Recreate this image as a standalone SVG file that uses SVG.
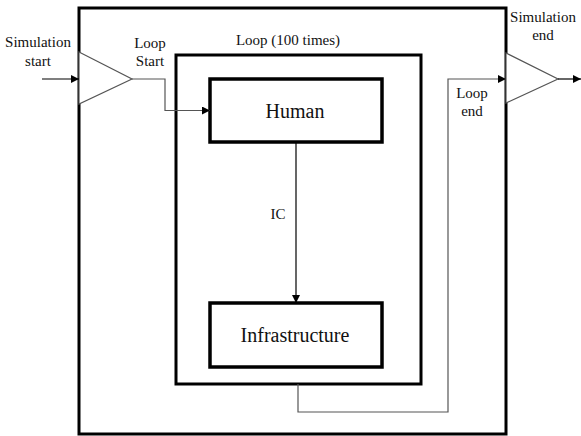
<svg xmlns="http://www.w3.org/2000/svg" width="581" height="436" viewBox="0 0 581 436">
  <style>
    .box { fill: none; stroke: #000; stroke-width: 3; }
    .node { fill: #fff; stroke: #000; stroke-width: 3.5; }
    .gate { fill: #fff; stroke: #555; stroke-width: 1.2; }
    .wire { fill: none; stroke: #555; stroke-width: 1.2; }
    .wire-dark { fill: none; stroke: #000; stroke-width: 1.2; }
    text { font-family: 'Liberation Serif', 'DejaVu Serif', serif; fill: #111; text-anchor: middle; }
    .lbl { font-size: 15px; }
    .big { font-size: 20px; }
  </style>
  <defs>
    <marker id="arrow" viewBox="0 0 10 10" refX="10" refY="5" markerWidth="8" markerHeight="8" markerUnits="userSpaceOnUse" orient="auto">
      <path d="M0,0 L10,5 L0,10 z" fill="#000"/>
    </marker>
  </defs>
  <rect width="581" height="436" fill="#fff"/>

  <!-- simulation frame -->
  <g id="simulation">
    <rect class="box" x="79" y="8" width="427" height="426"/>
  </g>

  <!-- loop frame -->
  <g id="loop">
    <rect class="box" x="176" y="55" width="245" height="329"/>
    <text class="lbl" x="288" y="45" font-family="Liberation Serif, serif">Loop (100 times)</text>
  </g>

  <g id="human">
    <rect class="node" x="210" y="79" width="172" height="63"/>
    <text class="big" x="295" y="118">Human</text>
  </g>

  <g id="infrastructure">
    <rect class="node" x="210" y="303" width="172" height="64"/>
    <text class="big" x="295" y="342">Infrastructure</text>
  </g>

  <g id="loop-start">
    <polygon class="gate" points="79,52 132,79 79,104"/>
    <text class="lbl" x="150" y="48">Loop</text>
    <text class="lbl" x="150" y="66">Start</text>
  </g>

  <g id="simulation-end">
    <polygon class="gate" points="506,53 558,79 506,103"/>
    <text class="lbl" x="543" y="22">Simulation</text>
    <text class="lbl" x="543" y="40">end</text>
  </g>

  <g id="simulation-start-label">
    <text class="lbl" x="38" y="47">Simulation</text>
    <text class="lbl" x="38" y="66">start</text>
  </g>

  <g id="loop-end-label">
    <text class="lbl" x="472" y="98">Loop</text>
    <text class="lbl" x="472" y="116">end</text>
  </g>

  <!-- connectors -->
  <g id="connectors">
    <line class="wire-dark" x1="42" y1="79" x2="79" y2="79" marker-end="url(#arrow)"/>
    <polyline class="wire" points="132,79 165,79 165,110.5 210,110.5" marker-end="url(#arrow)"/>
    <line class="wire-dark" x1="296" y1="142" x2="296" y2="303" marker-end="url(#arrow)"/>
    <text class="lbl" x="278" y="219">IC</text>
    <polyline class="wire" points="298,384 298,412 448,412 448,79 506,79" marker-end="url(#arrow)"/>
    <line class="wire-dark" x1="558" y1="79" x2="581" y2="79" marker-end="url(#arrow)"/>
  </g>
</svg>
